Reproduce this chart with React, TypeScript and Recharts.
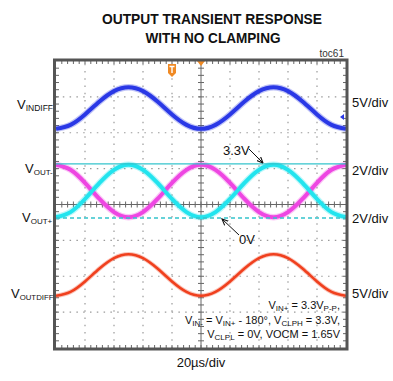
import { LineChart, Line, XAxis, YAxis, ReferenceLine, ReferenceDot } from "recharts";

// time axis in µs (20µs/div, 10 div)
const timeUs = [0, 10, 20, 30, 40, 50, 60, 70, 80, 90, 100, 110, 120, 130, 140, 150, 160, 170, 180, 190, 200];

// traces, volts as read from the scope shot
const vinDiff = [-2.9, -2.35, -0.9, 0.9, 2.35, 2.9, 2.35, 0.9, -0.9, -2.35, -2.9, -2.35, -0.9, 0.9, 2.35, 2.9, 2.35, 0.9, -0.9, -2.35, -2.9];
const voutMinus = [3.25, 2.94, 2.14, 1.16, 0.36, 0.05, 0.36, 1.16, 2.14, 2.94, 3.25, 2.94, 2.14, 1.16, 0.36, 0.05, 0.36, 1.16, 2.14, 2.94, 3.25];
const voutPlus = [0.05, 0.36, 1.16, 2.14, 2.94, 3.25, 2.94, 2.14, 1.16, 0.36, 0.05, 0.36, 1.16, 2.14, 2.94, 3.25, 2.94, 2.14, 1.16, 0.36, 0.05];
const voutDiff = [-2.9, -2.35, -0.9, 0.9, 2.35, 2.9, 2.35, 0.9, -0.9, -2.35, -2.9, -2.35, -0.9, 0.9, 2.35, 2.9, 2.35, 0.9, -0.9, -2.35, -2.9];

// channel position (div) and vertical scale (V/div) on screen
const inDiffPos = 2.69;
const inDiffScale = 5;
const outPos = -0.376;
const outScale = 2.19;
const outDiffPos = -1.965;
const outDiffScale = 5;

const majorX = [20, 40, 60, 80, 120, 140, 160, 180];
const majorY = [-3, -2, -1, 1, 2, 3];
const minorX = Array.from({ length: 49 }, (_, i) => (i + 1) * 4);
const minorY = Array.from({ length: 39 }, (_, i) => -3.8 + i * 0.2);

const data = timeUs.map((t, i) => ({
  t,
  inDiff: inDiffPos + vinDiff[i] / inDiffScale,
  outMinus: outPos + voutMinus[i] / outScale,
  outPlus: outPos + voutPlus[i] / outScale,
  outDiff: outDiffPos + voutDiff[i] / outDiffScale,
}));

const W = 393;
const H = 381;
const M = { top: 61, right: 47, bottom: 33, left: 56 };
const font = "'Liberation Sans', Arial, sans-serif";

// pixel sizes expressed in data units for tick marks
const dxPx = 200 / (W - M.left - M.right);
const dyPx = 8 / (H - M.top - M.bottom);

const tickColor = "#666";
const gridColor = "#9a9a9a";

export default function App() {
  const traces = [
    { key: "inDiff", color: "#2a38e6", w: 4, halo: 6.5 },
    { key: "outMinus", color: "#ee46e2", w: 4, halo: 6.5 },
    { key: "outPlus", color: "#22e4ee", w: 4, halo: 6.5 },
    { key: "outDiff", color: "#f0401e", w: 2.6, halo: 4.5 },
  ];

  return (
    <div style={{ position: "relative", width: W, height: H, background: "#fff" }}>
      <style>{`body{margin:0}`}</style>
      <LineChart width={W} height={H} data={data} margin={M}>
        <XAxis dataKey="t" type="number" domain={[0, 200]} hide allowDataOverflow />
        <YAxis type="number" domain={[-4, 4]} hide allowDataOverflow />

        {majorX.map((x) => (
          <ReferenceLine key={"gx" + x} x={x} stroke={gridColor} strokeDasharray="1.5 5.75" strokeWidth={1.2} />
        ))}
        {majorY.map((y) => (
          <ReferenceLine key={"gy" + y} y={y} stroke={gridColor} strokeDasharray="1.5 5.3" strokeWidth={1.2} />
        ))}

        <ReferenceLine x={100} stroke={tickColor} strokeWidth={1} />
        <ReferenceLine y={0} stroke={tickColor} strokeWidth={1} />

        {minorX.map((x) => (
          <ReferenceLine key={"cx" + x} segment={[{ x, y: -3 * dyPx }, { x, y: 3 * dyPx }]} stroke={tickColor} />
        ))}
        {minorY.map((y) => (
          <ReferenceLine key={"cy" + y} segment={[{ x: 100 - 3 * dxPx, y }, { x: 100 + 3 * dxPx, y }]} stroke={tickColor} />
        ))}
        {minorX.map((x) => (
          <ReferenceLine key={"tx" + x} segment={[{ x, y: 4 }, { x, y: 4 - 3 * dyPx }]} stroke={tickColor} />
        ))}
        {minorX.map((x) => (
          <ReferenceLine key={"bx" + x} segment={[{ x, y: -4 }, { x, y: -4 + 3 * dyPx }]} stroke={tickColor} />
        ))}
        {minorY.map((y) => (
          <ReferenceLine key={"ly" + y} segment={[{ x: 0, y }, { x: 3 * dxPx, y }]} stroke={tickColor} />
        ))}
        {minorY.map((y) => (
          <ReferenceLine key={"ry" + y} segment={[{ x: 200, y }, { x: 200 - 3 * dxPx, y }]} stroke={tickColor} />
        ))}

        {traces.map((tr) => (
          <Line
            key={tr.key + "-halo"}
            type="natural"
            dataKey={tr.key}
            stroke={tr.color}
            strokeOpacity={0.3}
            strokeWidth={tr.halo}
            dot={false}
            isAnimationActive={false}
          />
        ))}
        {traces.map((tr) => (
          <Line
            key={tr.key}
            type="natural"
            dataKey={tr.key}
            stroke={tr.color}
            strokeWidth={tr.w}
            dot={false}
            isAnimationActive={false}
          />
        ))}

        <ReferenceLine y={outPos + 3.3 / outScale} stroke="#35c4cc" strokeWidth={1.3} />
        <ReferenceLine y={outPos} stroke="#35c4cc" strokeWidth={1.3} strokeDasharray="4 3" />

        <ReferenceDot
          x={100}
          y={4}
          r={4}
          shape={(p: any) => (
            <path d={`M${p.cx - 4},${p.cy} L${p.cx + 4},${p.cy} L${p.cx},${p.cy + 5} Z`} fill="#f08a24" />
          )}
        />
        <ReferenceDot
          x={80}
          y={3.75}
          r={4}
          shape={(p: any) => (
            <g>
              <path
                d={`M${p.cx - 4},${p.cy - 6} L${p.cx + 4},${p.cy - 6} L${p.cx + 4},${p.cy + 3} L${p.cx},${p.cy + 7} L${p.cx - 4},${p.cy + 3} Z`}
                fill="#f08a24"
              />
              <path d={`M${p.cx - 2.5},${p.cy - 3.5} L${p.cx + 2.5},${p.cy - 3.5} M${p.cx},${p.cy - 3.5} L${p.cx},${p.cy + 3}`} stroke="#fff" strokeWidth={1.4} />
            </g>
          )}
        />
        <ReferenceDot
          x={200}
          y={2.44}
          r={3}
          shape={(p: any) => (
            <path d={`M${p.cx - 6},${p.cy} L${p.cx - 2},${p.cy - 3} L${p.cx - 2},${p.cy + 3} Z`} fill="#2a38e6" />
          )}
        />
      </LineChart>

      <svg
        width={W}
        height={H}
        style={{ position: "absolute", left: 0, top: 0, pointerEvents: "none" }}
        fontFamily={font}
      >
        <defs>
          <marker id="ah" viewBox="0 0 10 10" refX="9" refY="5" markerWidth="7" markerHeight="7" orient="auto">
            <path d="M0,1 L9,5 L0,9" fill="none" stroke="#111" strokeWidth={1.6} />
          </marker>
        </defs>

        <rect x={M.left - 1.5} y={M.top - 1} width={W - M.left - M.right + 2.5} height={H - M.top - M.bottom + 2} fill="none" stroke="#555" strokeWidth={3} />

        <text x={212} y={24} textAnchor="middle" fontSize={15} fontWeight="bold" fill="#111" textLength={220} lengthAdjust="spacingAndGlyphs">
          OUTPUT TRANSIENT RESPONSE
        </text>
        <text x={213} y={43} textAnchor="middle" fontSize={15} fontWeight="bold" fill="#111" textLength={135} lengthAdjust="spacingAndGlyphs">
          WITH NO CLAMPING
        </text>
        <text x={344} y={57} textAnchor="end" fontSize={10} fill="#333">toc61</text>

        <text x={17} y={109} fontSize={13} fill="#111">
          V<tspan fontSize={8.5} dy={2}>INDIFF</tspan>
        </text>
        <text x={25} y={173} fontSize={13} fill="#111">
          V<tspan fontSize={8} dy={2}>OUT-</tspan>
        </text>
        <text x={22} y={222} fontSize={13} fill="#111">
          V<tspan fontSize={8} dy={2}>OUT+</tspan>
        </text>
        <text x={11} y={298} fontSize={13} fill="#111">
          V<tspan fontSize={7.8} dy={2}>OUTDIFF</tspan>
        </text>

        <text x={352} y={107} fontSize={13} fill="#111">5V/div</text>
        <text x={352} y={175} fontSize={13} fill="#111">2V/div</text>
        <text x={352} y={223} fontSize={13} fill="#111">2V/div</text>
        <text x={352} y={298} fontSize={13} fill="#111">5V/div</text>

        <text x={223} y={155} fontSize={13} fill="#111">3.3V</text>
        <line x1={249} y1={149} x2={263} y2={163} stroke="#111" strokeWidth={1} markerEnd="url(#ah)" />
        <text x={239} y={244} fontSize={13} fill="#111">0V</text>
        <line x1={239} y1={235} x2={222} y2={219} stroke="#111" strokeWidth={1} markerEnd="url(#ah)" />

        <text x={340} y={309} textAnchor="end" fontSize={11} fill="#111">
          V<tspan fontSize={8} dy={2}>IN+</tspan>
          <tspan dy={-2}> = 3.3V</tspan>
          <tspan fontSize={8} dy={2}>P-P</tspan>
          <tspan dy={-2}>,</tspan>
        </text>
        <text x={340} y={324} textAnchor="end" fontSize={11} fill="#111">
          V<tspan fontSize={8} dy={2}>IN-</tspan>
          <tspan dy={-2}> = V</tspan>
          <tspan fontSize={8} dy={2}>IN+</tspan>
          <tspan dy={-2}> - 180°, V</tspan>
          <tspan fontSize={8} dy={2}>CLPH</tspan>
          <tspan dy={-2}> = 3.3V,</tspan>
        </text>
        <text x={340} y={338} textAnchor="end" fontSize={11} fill="#111">
          V<tspan fontSize={8} dy={2}>CLPL</tspan>
          <tspan dy={-2}> = 0V, VOCM = 1.65V</tspan>
        </text>

        <text x={201} y={367} textAnchor="middle" fontSize={13} fill="#111">20µs/div</text>
      </svg>
    </div>
  );
}
